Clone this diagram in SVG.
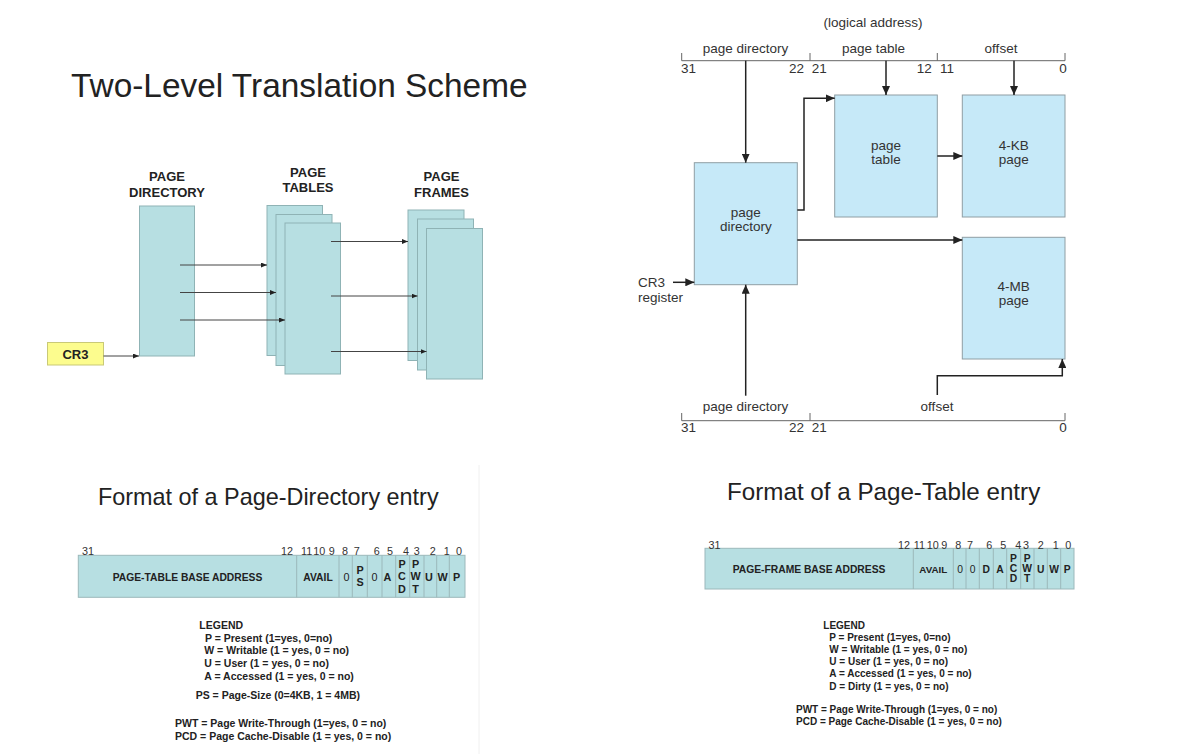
<svg xmlns="http://www.w3.org/2000/svg" width="1195" height="754" viewBox="0 0 1195 754">
<defs>
<style>
text{font-family:"Liberation Sans",Arial,sans-serif;fill:#222}
.b{font-weight:bold}
.tl{fill:#b7dfe2;stroke:#8fb3b5;stroke-width:1}
.tr{fill:#c6e9f8;stroke:#8f9ea4;stroke-width:1}
.tb{fill:#b7dfe2;stroke:#9bb8bb;stroke-width:1}
.conn{fill:none;stroke:#222;stroke-width:1.5}
.thin{fill:none;stroke:#444;stroke-width:1}
.br{fill:none;stroke:#666;stroke-width:1}
.lbl{font-size:13.5px;text-anchor:middle;fill:#333}
.num{font-size:13.5px;fill:#333}
.hd{font-size:13px;text-anchor:middle}
.cell{font-size:10.8px;text-anchor:middle}
.cell2{font-size:10.3px;text-anchor:middle}
.bit{font-size:10.8px;text-anchor:middle;fill:#333}
.leg{font-size:10.5px}
.leg2{font-size:10px}
.div{stroke:#9bb8bb;stroke-width:1}
</style>
<marker id="ah" markerUnits="userSpaceOnUse" markerWidth="9" markerHeight="8" refX="9" refY="4" orient="auto"><path d="M0,0 L9,4 L0,8 z" fill="#222"/></marker>
<marker id="as" markerUnits="userSpaceOnUse" markerWidth="6" markerHeight="5" refX="6" refY="2.5" orient="auto"><path d="M0,0 L6,2.5 L0,5 z" fill="#222"/></marker>
</defs>
<rect width="1195" height="754" fill="#fff"/>

<!-- Top-left: Two-Level Translation Scheme -->
<g id="title-left"><text x="71" y="96.5" style="font-size:33.4px" fill="#111">Two-Level Translation Scheme</text></g>
<g id="page-directory-left">
<text class="hd b" x="167" y="181">PAGE</text>
<text class="hd b" x="167" y="197">DIRECTORY</text>
<rect class="tl" x="139.5" y="206" width="55" height="150"/>
</g>
<g id="page-tables-left">
<text class="hd b" x="308" y="177">PAGE</text>
<text class="hd b" x="308" y="192">TABLES</text>
<rect class="tl" x="267" y="205.5" width="55.5" height="150"/>
<rect class="tl" x="276" y="214.5" width="56" height="151"/>
<rect class="tl" x="285" y="223" width="55.5" height="151"/>
</g>
<g id="page-frames-left">
<text class="hd b" x="441.5" y="181">PAGE</text>
<text class="hd b" x="441.5" y="197">FRAMES</text>
<rect class="tl" x="408" y="210" width="56" height="150.5"/>
<rect class="tl" x="417.5" y="219" width="56" height="151"/>
<rect class="tl" x="426.5" y="228.5" width="56" height="150.5"/>
</g>
<g id="cr3-left">
<rect x="47.5" y="342.5" width="56" height="22.5" fill="#fcfc8e" stroke="#c9c977" stroke-width="1"/>
<text x="75.5" y="358.5" class="b" style="font-size:13px" text-anchor="middle">CR3</text>
</g>
<g id="connectors-left">
<line class="thin" x1="103.5" y1="356" x2="139" y2="356" marker-end="url(#as)"/>
<line class="thin" x1="180" y1="265" x2="267" y2="265" marker-end="url(#as)" stroke="#555"/>
<line class="thin" x1="180" y1="292.5" x2="276" y2="292.5" marker-end="url(#as)" stroke="#111"/>
<line class="thin" x1="180" y1="320" x2="285" y2="320" marker-end="url(#as)" stroke="#555"/>
<line class="thin" x1="331" y1="241.5" x2="408" y2="241.5" marker-end="url(#as)" stroke="#111"/>
<line class="thin" x1="331" y1="296" x2="417.5" y2="296" marker-end="url(#as)" stroke="#333"/>
<line class="thin" x1="331" y1="351.5" x2="426.5" y2="351.5" marker-end="url(#as)" stroke="#111"/>
</g>

<!-- Top-right: logical address -->
<g id="logical-address">
<text class="lbl" x="873" y="27">(logical address)</text>
<text class="lbl" x="745.5" y="52.5">page directory</text>
<text class="lbl" x="873.5" y="52.5">page table</text>
<text class="lbl" x="1001" y="52.5">offset</text>
<path class="br" d="M681.7,53 V60.7 H1065 V53 M810,53 V60.7 M937.3,53 V60.7"/>
<text class="num" x="681" y="73">31</text>
<text class="num" x="804" y="73" text-anchor="end">22</text>
<text class="num" x="811.7" y="73">21</text>
<text class="num" x="931.7" y="73" text-anchor="end">12</text>
<text class="num" x="940" y="73">11</text>
<text class="num" x="1066.7" y="73" text-anchor="end">0</text>
</g>
<g id="page-table-right">
<rect class="tr" x="834.7" y="95" width="102.6" height="122"/>
<text class="lbl" x="886" y="150">page</text>
<text class="lbl" x="886" y="164">table</text>
</g>
<g id="kb-page">
<rect class="tr" x="962.3" y="95" width="102.7" height="122"/>
<text class="lbl" x="1013.7" y="150">4-KB</text>
<text class="lbl" x="1013.7" y="164">page</text>
</g>
<g id="page-directory-right">
<rect class="tr" x="694.3" y="162.7" width="103" height="122"/>
<text class="lbl" x="745.8" y="217">page</text>
<text class="lbl" x="745.8" y="231">directory</text>
</g>
<g id="mb-page">
<rect class="tr" x="962.3" y="237.3" width="102.7" height="121.7"/>
<text class="lbl" x="1013.7" y="290.5">4-MB</text>
<text class="lbl" x="1013.7" y="305">page</text>
</g>
<g id="cr3-register">
<text class="num" x="638" y="286.5">CR3</text>
<text class="num" x="638" y="301.5">register</text>
</g>
<g id="linear-address-bottom">
<text class="lbl" x="745.5" y="411">page directory</text>
<text class="lbl" x="937" y="411">offset</text>
<path class="br" d="M681.7,413 V420.7 H1065 V413 M810,413 V420.7"/>
<text class="num" x="681" y="431.5">31</text>
<text class="num" x="804" y="431.5" text-anchor="end">22</text>
<text class="num" x="811.7" y="431.5">21</text>
<text class="num" x="1066.7" y="431.5" text-anchor="end">0</text>
</g>
<g id="connectors-right">
<line class="conn" x1="745.7" y1="60.7" x2="745.7" y2="162.7" marker-end="url(#ah)"/>
<line class="conn" x1="886" y1="60.7" x2="886" y2="95" marker-end="url(#ah)"/>
<line class="conn" x1="1014" y1="60.7" x2="1014" y2="95" marker-end="url(#ah)"/>
<path class="conn" d="M797.3,210 H804 V98.3 H834.7" marker-end="url(#ah)"/>
<line class="conn" x1="937.3" y1="156" x2="962.3" y2="156" marker-end="url(#ah)"/>
<line class="conn" x1="797.3" y1="240" x2="962.3" y2="240" marker-end="url(#ah)"/>
<line class="conn" x1="673" y1="282.3" x2="694.3" y2="282.3" marker-end="url(#ah)"/>
<line class="conn" x1="745.7" y1="395.7" x2="745.7" y2="284.7" marker-end="url(#ah)"/>
<path class="conn" d="M937.3,395 V375.7 H1062.3 V359" marker-end="url(#ah)"/>
</g>

<line x1="479" y1="465" x2="479" y2="754" stroke="#f0f0f0" stroke-width="1"/>

<!-- Bottom-left: Page-Directory entry -->
<g id="title-pde"><text x="98" y="505" style="font-size:23.4px" fill="#111">Format of a Page-Directory entry</text></g>
<g id="pde-table">
<rect class="tb" x="78.3" y="555.3" width="386.7" height="42"/>
<path class="div" d="M296.7,555.3V597.3M339,555.3V597.3M352.3,555.3V597.3M367.3,555.3V597.3M382,555.3V597.3M395.7,555.3V597.3M409.7,555.3V597.3M424,555.3V597.3M436.7,555.3V597.3M449.3,555.3V597.3"/>
<text class="bit" x="88" y="554.5">31</text>
<text class="bit" x="287" y="554.5">12</text>
<text class="bit" x="306.7" y="554.5">11</text>
<text class="bit" x="319.3" y="554.5">10</text>
<text class="bit" x="331.7" y="554.5">9</text>
<text class="bit" x="345" y="554.5">8</text>
<text class="bit" x="356.7" y="554.5">7</text>
<text class="bit" x="376.7" y="554.5">6</text>
<text class="bit" x="390" y="554.5">5</text>
<text class="bit" x="406" y="554.5">4</text>
<text class="bit" x="416.7" y="554.5">3</text>
<text class="bit" x="432.7" y="554.5">2</text>
<text class="bit" x="446.7" y="554.5">1</text>
<text class="bit" x="459" y="554.5">0</text>
<text class="cell2 b" x="187.5" y="580.5">PAGE-TABLE BASE ADDRESS</text>
<text class="cell2 b" x="318" y="580.5">AVAIL</text>
<text class="cell" x="346.5" y="580.5">0</text>
<text class="cell b" x="360" y="573.5">P</text>
<text class="cell b" x="360" y="585.8">S</text>
<text class="cell" x="374.5" y="580.5">0</text>
<text class="cell b" x="387.5" y="580.5">A</text>
<text class="cell b" x="402" y="567.5">P</text>
<text class="cell b" x="402" y="580.3">C</text>
<text class="cell b" x="402" y="593.3">D</text>
<text class="cell b" x="415.5" y="567.5">P</text>
<text class="cell b" x="415.5" y="580.3">W</text>
<text class="cell b" x="415.5" y="593.3">T</text>
<text class="cell b" x="429" y="580.5">U</text>
<text class="cell b" x="442.5" y="580.5">W</text>
<text class="cell b" x="456.5" y="580.5">P</text>
</g>
<g id="pde-legend">
<text class="leg b" x="199.3" y="628.8">LEGEND</text>
<text class="leg b" x="205" y="641.5">P = Present (1=yes, 0=no)</text>
<text class="leg b" x="204.3" y="653.8">W = Writable (1 = yes, 0 = no)</text>
<text class="leg b" x="204.3" y="666.5">U = User (1 = yes, 0 = no)</text>
<text class="leg b" x="204.3" y="679.5">A = Accessed (1 = yes, 0 = no)</text>
<text class="leg b" x="195.7" y="698.8">PS = Page-Size (0=4KB, 1 = 4MB)</text>
<text class="leg b" x="175" y="727">PWT = Page Write-Through (1=yes, 0 = no)</text>
<text class="leg b" x="175" y="739.5">PCD = Page Cache-Disable (1 = yes, 0 = no)</text>
</g>

<!-- Bottom-right: Page-Table entry -->
<g id="title-pte"><text x="727" y="500" style="font-size:24.2px" fill="#111">Format of a Page-Table entry</text></g>
<g id="pte-table">
<rect class="tb" x="705" y="548.3" width="369" height="40.7"/>
<path class="div" d="M913.3,548.3V589M953.3,548.3V589M966,548.3V589M979.3,548.3V589M993.3,548.3V589M1006.7,548.3V589M1020.7,548.3V589M1034,548.3V589M1047.3,548.3V589M1060.7,548.3V589"/>
<text class="bit" x="714.5" y="548.8">31</text>
<text class="bit" x="904" y="549">12</text>
<text class="bit" x="919.3" y="549">11</text>
<text class="bit" x="932.7" y="549">10</text>
<text class="bit" x="944.3" y="549">9</text>
<text class="bit" x="958.3" y="549">8</text>
<text class="bit" x="970" y="549">7</text>
<text class="bit" x="989.3" y="549">6</text>
<text class="bit" x="1003.3" y="549">5</text>
<text class="bit" x="1018.3" y="549">4</text>
<text class="bit" x="1026" y="549">3</text>
<text class="bit" x="1040.7" y="549">2</text>
<text class="bit" x="1055.7" y="549">1</text>
<text class="bit" x="1068.3" y="549">0</text>
<text class="cell2 b" x="809" y="572.8">PAGE-FRAME BASE ADDRESS</text>
<text class="cell2 b" style="font-size:9.8px" x="933.3" y="572.5">AVAIL</text>
<text class="cell2" x="960" y="572.5">0</text>
<text class="cell2" x="972.7" y="572.5">0</text>
<text class="cell2 b" x="986.3" y="572.5">D</text>
<text class="cell2 b" x="1000" y="572.5">A</text>
<text class="cell2 b" x="1013.5" y="561.8">P</text>
<text class="cell2 b" x="1013.5" y="571.8">C</text>
<text class="cell2 b" x="1013.5" y="581.8">D</text>
<text class="cell2 b" x="1027.2" y="561.8">P</text>
<text class="cell2 b" x="1027.2" y="571.8">W</text>
<text class="cell2 b" x="1027.2" y="581.8">T</text>
<text class="cell2 b" x="1040.7" y="572.5">U</text>
<text class="cell2 b" x="1054" y="572.5">W</text>
<text class="cell2 b" x="1067.3" y="572.5">P</text>
</g>
<g id="pte-legend">
<text class="leg2 b" x="823.3" y="628.5">LEGEND</text>
<text class="leg2 b" x="829.3" y="641.2">P = Present (1=yes, 0=no)</text>
<text class="leg2 b" x="829.3" y="652.8">W = Writable (1 = yes, 0 = no)</text>
<text class="leg2 b" x="829.3" y="664.5">U = User (1 = yes, 0 = no)</text>
<text class="leg2 b" x="829.3" y="676.8">A = Accessed (1 = yes, 0 = no)</text>
<text class="leg2 b" x="829.3" y="689.5">D = Dirty (1 = yes, 0 = no)</text>
<text class="leg2 b" x="796" y="712.8">PWT = Page Write-Through (1=yes, 0 = no)</text>
<text class="leg2 b" x="796" y="725.2">PCD = Page Cache-Disable (1 = yes, 0 = no)</text>
</g>
</svg>
